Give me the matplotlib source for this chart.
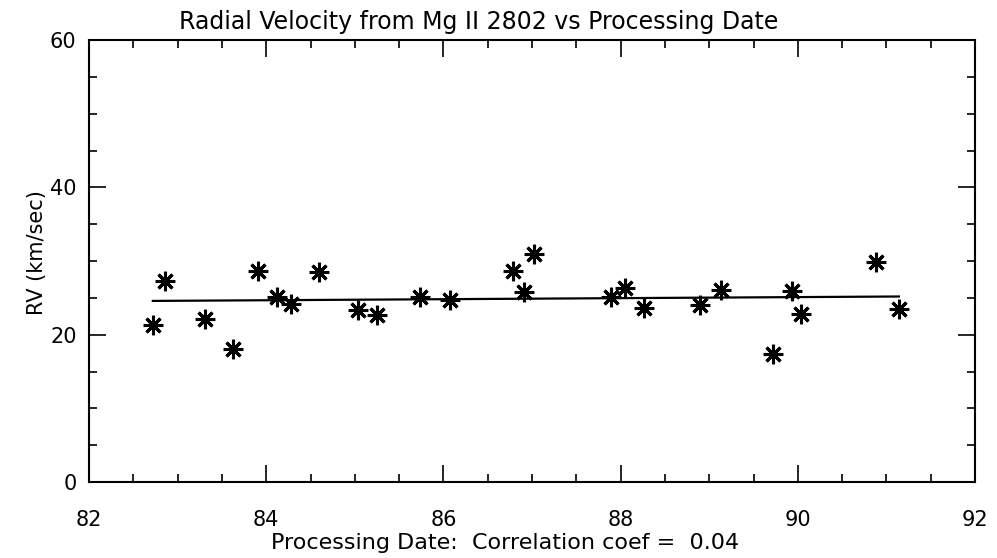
import matplotlib
matplotlib.use("Agg")
import matplotlib.pyplot as plt
from matplotlib.ticker import MultipleLocator

# processing date (years since 1900) and radial velocity (km/sec)
dates = [82.72, 82.86, 83.31, 83.63, 83.91, 84.12, 84.28, 84.59, 85.04,
         85.25, 85.74, 86.07, 86.78, 86.91, 87.02, 87.89, 88.05, 88.26,
         88.89, 89.13, 89.72, 89.93, 90.04, 90.88, 91.14]
rv = [21.3, 27.3, 22.2, 18.1, 28.7, 25.1, 24.2, 28.5, 23.4,
      22.7, 25.1, 24.7, 28.6, 25.8, 31.0, 25.1, 26.4, 23.7,
      24.0, 26.1, 17.4, 26.0, 22.8, 29.9, 23.5]

# linear fit endpoints as drawn
fit_x = [82.72, 91.14]
fit_y = [24.6, 25.2]

corr = 0.04
x_ticks = [82, 84, 86, 88, 90, 92]
y_ticks = [0, 20, 40, 60]

plt.rcParams["font.family"] = ["DejaVu Sans"]

fig = plt.figure(figsize=(9.97, 5.58), dpi=100)
ax = fig.add_axes([0.0893, 0.136, 0.8887, 0.792])

ax.plot(dates, rv, linestyle="none", marker=(8, 2, 0), markersize=14,
        markeredgewidth=2.2, color="black")
ax.plot(fit_x, fit_y, color="black", lw=1.6)

ax.set_xlim(82, 92)
ax.set_ylim(0, 60)
ax.set_xticks(x_ticks)
ax.set_yticks(y_ticks)
ax.xaxis.set_minor_locator(MultipleLocator(0.5))
ax.yaxis.set_minor_locator(MultipleLocator(5))
ax.tick_params(which="both", direction="in", top=True, right=True,
               labelsize=15, width=1.2)
ax.tick_params(which="major", length=12)
ax.tick_params(which="minor", length=6)
ax.tick_params(axis="x", pad=20)
ax.tick_params(axis="y", pad=9)
for s in ax.spines.values():
    s.set_linewidth(1.5)

ax.set_ylabel("RV (km/sec)", fontsize=15, labelpad=2, y=0.52)
ax.set_xlabel(f"Processing Date:  Correlation coef =  {corr:.2f}",
              fontsize=16, labelpad=2, x=0.47)
ax.set_title("Radial Velocity from Mg II 2802 vs Processing Date",
             fontsize=17, pad=8, x=0.44)

fig.savefig("out.png", dpi=100)
